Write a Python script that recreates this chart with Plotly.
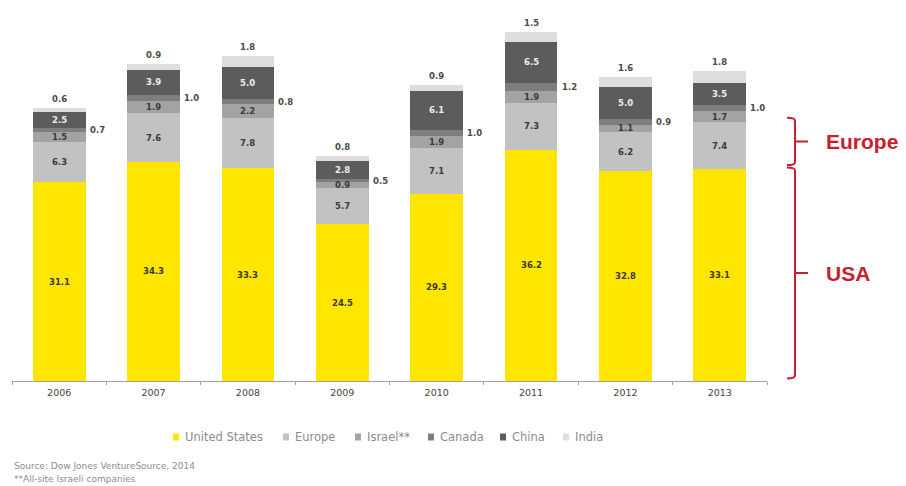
import plotly.graph_objects as go

# Venture capital invested, by region (US$ billions)
years = ["2006", "2007", "2008", "2009", "2010", "2011", "2012", "2013"]
united_states = [31.1, 34.3, 33.3, 24.5, 29.3, 36.2, 32.8, 33.1]
europe = [6.3, 7.6, 7.8, 5.7, 7.1, 7.3, 6.2, 7.4]
israel = [1.5, 1.9, 2.2, 0.9, 1.9, 1.9, 1.1, 1.7]
canada = [0.7, 1.0, 0.8, 0.5, 1.0, 1.2, 0.9, 1.0]
china = [2.5, 3.9, 5.0, 2.8, 6.1, 6.5, 5.0, 3.5]
india = [0.6, 0.9, 1.8, 0.8, 0.9, 1.5, 1.6, 1.8]

series_names = ["United States", "Europe", "Israel**", "Canada", "China", "India"]
series_values = [united_states, europe, israel, canada, china, india]
series_colors = ["#FFE600", "#C2C2C2", "#A3A3A3", "#7E7E7E", "#5C5C5C", "#DEDEDE"]
# where each series' value label goes: inside the segment, right of the bar, or above it
label_modes = ["inside", "inside", "inside", "right", "inside", "top"]
label_colors = ["#3A3A3A", "#3A3A3A", "#3A3A3A", "#4A4A4A", "#EEEEEE", "#4A4A4A"]

source_lines = ["Source: Dow Jones VentureSource, 2014", "**All-site Israeli companies"]
brace_labels = ["Europe", "USA"]

RED = "#C8202F"
SMALL_FONT = "DejaVu Sans, Verdana, sans-serif"

# plot-area pixel geometry, used to place the legend row and footnotes
WIDTH, HEIGHT = 906, 486
PLOT_L, PLOT_W, PLOT_BOTTOM, PLOT_H = 12, 755, 381, 371


def px_x(px):
    return (px - PLOT_L) / PLOT_W


def px_y(py):
    return (PLOT_BOTTOM - py) / PLOT_H


fig = go.Figure()
for name, vals, col in zip(series_names, series_values, series_colors):
    fig.add_trace(go.Bar(
        x=years, y=vals, name=name, marker=dict(color=col, line=dict(width=0)),
        width=0.56, showlegend=False, hoverinfo="x+y+name",
    ))

annotations = []
shapes = []
base = [0.0] * len(years)
for vals, mode, lc in zip(series_values, label_modes, label_colors):
    for i, v in enumerate(vals):
        bottom = base[i]
        label = dict(x=i, text=f"{v:.1f}", showarrow=False, xref="x", yref="y",
                     font=dict(size=8.5, color=lc, family=SMALL_FONT, weight="bold"))
        if mode == "inside":
            label.update(y=bottom + v / 2)
        elif mode == "right":
            label.update(y=bottom + v / 2, xshift=38)
        else:
            label.update(y=bottom + v, yanchor="bottom", yshift=2)
        annotations.append(label)
        base[i] = bottom + v

# legend row: small swatch followed by the series name
legend_px = [173, 283, 355, 428, 500, 563]
legend_y = 437
for name, col, lx in zip(series_names, series_colors, legend_px):
    shapes.append(dict(type="rect", xref="paper", yref="paper",
                       x0=px_x(lx), x1=px_x(lx + 6),
                       y0=px_y(legend_y + 3.5), y1=px_y(legend_y - 3.5),
                       fillcolor=col, line=dict(width=0)))
    annotations.append(dict(
        x=px_x(lx + 10), y=px_y(legend_y), xref="paper", yref="paper",
        xanchor="left", yanchor="middle", showarrow=False, text=name,
        font=dict(size=11.5, color="#8C8C8C", family=SMALL_FONT),
    ))

for k, line in enumerate(source_lines):
    annotations.append(dict(
        x=0.0, y=px_y(466 + 13 * k), xref="paper", yref="paper", xanchor="left",
        yanchor="middle", showarrow=False, text=line,
        font=dict(size=9, color="#8C8C8C", family=SMALL_FONT),
    ))

# curly braces marking the last year's US and Europe segments
last = len(years) - 1
us_top = united_states[last]
eu_top = united_states[last] + europe[last]
spans = [(us_top + 0.7, eu_top + 0.7), (0.4, us_top + 0.3)]
x_hook, x_spine, x_prong = px_x(787), px_x(795), px_x(808)
for (y0, y1), text in zip(spans, brace_labels):
    r = 0.45
    ym = (y0 + y1) / 2
    path = (f"M {x_hook},{y1} Q {x_spine},{y1} {x_spine},{y1 - r} "
            f"L {x_spine},{y0 + r} Q {x_spine},{y0} {x_hook},{y0} "
            f"M {x_spine},{ym} L {x_prong},{ym}")
    shapes.append(dict(type="path", xref="paper", yref="y", path=path,
                       line=dict(color=RED, width=2)))
    annotations.append(dict(
        x=px_x(824), y=ym, xref="paper", yref="y", xanchor="left", yanchor="middle",
        showarrow=False, text=f"<b>{text}</b>",
        font=dict(size=21, color=RED, family="Liberation Sans, Arial"),
    ))

fig.update_layout(
    barmode="stack",
    width=WIDTH, height=HEIGHT,
    margin=dict(l=PLOT_L, r=WIDTH - PLOT_L - PLOT_W,
                t=PLOT_BOTTOM - PLOT_H, b=HEIGHT - PLOT_BOTTOM),
    paper_bgcolor="white", plot_bgcolor="white",
    annotations=annotations, shapes=shapes,
    xaxis=dict(
        type="category", range=[-0.5, 7.5], showgrid=False, zeroline=False,
        showline=True, linecolor="#A0A0A0", linewidth=1,
        ticks="outside", tickson="boundaries", ticklen=3, tickcolor="#A0A0A0",
        ticklabelstandoff=3,
        tickfont=dict(size=9.5, color="#444444", family=SMALL_FONT),
    ),
    yaxis=dict(range=[0, 58.06], visible=False, showgrid=False, zeroline=False),
)

fig.write_html("out.html")
